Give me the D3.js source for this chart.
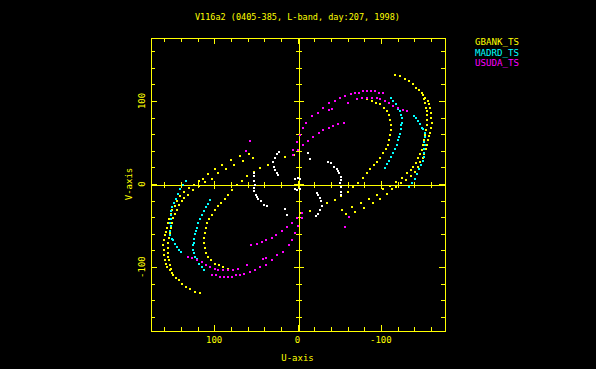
<!DOCTYPE html>
<html>
<head>
<meta charset="utf-8">
<script src="https://cdn.jsdelivr.net/npm/d3@7/dist/d3.min.js"></script>
<style>
	body { margin: 0; background: #000; }
	svg { display: block; }
	text { font-family: 'DejaVu Sans Mono', monospace; font-size: 9px; }
</style>
</head>
<body>
<script>

// uv punten (u, v) in kilo-lambda, de geconjugeerde punten (-u, -v) worden er bij getekend
const gbank = [
	[ [-117,131],[-123,130],[-129,127],[-134,124],[-139,120],[-142,116],[-146,113],[-149,109],[-153,104],[-157,100],
	  [-158,96],[-159,91],[-160,86],[-160,80],[-161,74],[-160,68],[-159,62],[-158,58],[-157,53],[-155,47],
	  [-154,42],[-152,36],[-151,31],[-147,26],[-145,20],[-141,14],[-136,10],[-130,5],[-124,1],[-118,-4],
	  [-113,-6],[-107,-12],[-99,-18],[-91,-23],[-80,-29],[-69,-34],[-58,-36],[-53,-31],[-15,-32],[-4,-35] ],
	[ [-151,107],[-152,102],[-153,97],[-154,92],[-155,88],[-155,83],[-155,77],[-155,71],[-154,65],[-153,59],
	  [-152,53],[-151,47],[-149,41],[-147,36],[-145,31],[-142,25],[-139,20],[-136,17],[-131,13],[-125,7],
	  [-118,2],[-111,-2],[-103,-6],[-95,-13],[-86,-18],[-76,-23],[-65,-28] ],
	[ [-83,102],[-89,100],[-94,98],[-99,96],[-104,92],[-107,88],[-110,83],[-111,77],[-112,71],[-112,65],
	  [-111,59],[-110,53],[-109,47],[-106,42],[-103,37],[-99,31],[-95,26],[-92,23],[-87,18],[-83,13],
	  [-79,7],[-73,1],[-67,-4],[-61,-10],[-52,-14],[-45,-19],[-35,-23] ]
]

const madrd = [
	[ [-140,82],[-142,79],[-145,76],[-147,72],[-149,68],[-151,66],[-153,61],[-153,56],[-152,50],[-153,47],
	  [-152,42],[-152,37],[-152,32],[-151,28],[-148,23],[-146,18],[-143,12],[-141,6],[-137,1],[-134,-4] ],
	[ [-112,103],[-115,100],[-118,96],[-121,90],[-123,88],[-124,83],[-125,79],[-125,74],[-124,71],[-124,66],
	  [-123,60],[-122,56],[-121,53],[-119,47],[-117,42],[-115,37],[-112,32],[-110,28],[-107,24],[-105,19] ]
]

const usuda = [
	[ [5,41],[1,50],[-3,59],[-7,67],[-10,74],[-17,82],[-25,86],[-31,92],[-38,97],[-45,100],
	  [-51,103],[-57,106],[-64,108],[-69,110],[-74,110],[-79,112],[-83,112],[-88,112],[-93,112],[-98,110],[-103,109] ],
	[ [-38,89],[-41,90],[-61,98],[-71,102],[-77,103],[-83,104],[-89,103],[-95,103],[-99,102],[-105,100],
	  [-110,97],[-115,94],[-121,91],[-127,89],[-131,88] ],
	[ [5,35],[-1,41],[-7,47],[-13,52],[-19,56],[-26,61],[-31,65],[-38,67],[-43,70],[-49,72],[-56,73] ],
	[ [57,52],[62,40] ]
]

// korte basislijnen, niet in de legenda
const overig = [
	[ [-37,26],[-40,25],[-44,20],[-47,18],[-49,16],[-50,13],[-52,8],[-52,5],[-51,1],[-52,-4],[-52,-10],[-52,-13] ],
	[ [22,38],[25,36],[27,31],[29,26],[28,20],[27,17],[25,13],[23,11] ],
	[ [3,6],[-1,7],[-3,6],[-13,37],[-15,30] ]
]

const series = [ gbank, madrd, usuda, overig ],
	colors = [ '#ffff00', '#00ffff', '#ff00ff', '#ffffff' ],
	legendNames = [ 'GBANK_TS', 'MADRD_TS', 'USUDA_TS' ],
	minorTicks = d3.range( -160, 161, 20 ),
	majorTicks = [ -100, 0, 100 ],
	title = 'V116a2 (0405-385, L-band, day:207, 1998)'

const width = 596,
	height = 369,
	yellow = '#ffff00',
	frameL = 150, frameR = 445, frameT = 37, frameB = 331,

	x = d3.scaleLinear().domain( [ 177, -177 ] ).range( [ frameL, frameR ] ), // U loopt van rechts naar links
	y = d3.scaleLinear().domain( [ 177, -177 ] ).range( [ frameT, frameB ] ),

	svg = d3.select( 'body' )
		.append( 'svg' )
		.attr( 'width', width )
		.attr( 'height', height )
		.style( 'background', '#000' )

const isMajor = d => majorTicks.includes( d )

// frame met ticks naar binnen
function frameAxis( axis, tx, ty ) {
	const g = svg.append( 'g' )
		.attr( 'transform', `translate( ${ tx }, ${ ty } )` )
		.attr( 'shape-rendering', 'crispEdges' )
		.call( axis.tickValues( minorTicks ).tickFormat( '' ).tickSizeOuter( 0 ) )
	g.select( '.domain' ).attr( 'stroke', yellow )
	g.selectAll( '.tick line' ).attr( 'stroke', yellow )
	return g
}

frameAxis( d3.axisRight( y ).tickSize( 4 ), frameL + 0.5, 0 )
	.selectAll( '.tick line' ).attr( 'x2', d => isMajor( d ) ? 6 : 4 )
frameAxis( d3.axisLeft( y ).tickSize( 4 ), frameR - 0.5, 0 )
	.selectAll( '.tick line' ).attr( 'x2', d => isMajor( d ) ? -6 : -4 )
frameAxis( d3.axisBottom( x ).tickSize( 4 ), 0, frameT + 0.5 )
	.selectAll( '.tick line' ).attr( 'y2', d => isMajor( d ) ? 6 : 4 )
frameAxis( d3.axisTop( x ).tickSize( 4 ), 0, frameB - 0.5 )
	.selectAll( '.tick line' ).attr( 'y2', d => isMajor( d ) ? -6 : -4 )

// nul-assen met ticks aan beide kanten
const vAxis = frameAxis( d3.axisRight( y ), Math.round( x( 0 ) ) + 0.5, 0 )
vAxis.selectAll( '.tick line' )
	.attr( 'x1', d => isMajor( d ) ? -5 : -3 )
	.attr( 'x2', d => isMajor( d ) ? 5 : 3 )

const uAxis = frameAxis( d3.axisBottom( x ), 0, Math.round( y( 0 ) ) + 0.5 )
uAxis.selectAll( '.tick line' )
	.attr( 'y1', d => isMajor( d ) ? -4 : -3 )
	.attr( 'y2', d => isMajor( d ) ? 4 : 3 )

// tick labels
svg.selectAll( '.ylab' )
	.data( majorTicks )
	.enter()
	.append( 'text' )
	.attr( 'class', 'ylab' )
	.attr( 'fill', yellow )
	.attr( 'text-anchor', 'middle' )
	.attr( 'transform', d => `translate( 145, ${ y( d ) } ) rotate( -90 )` )
	.text( d => String( d ) )

svg.selectAll( '.xlab' )
	.data( majorTicks )
	.enter()
	.append( 'text' )
	.attr( 'class', 'xlab' )
	.attr( 'fill', yellow )
	.attr( 'text-anchor', 'middle' )
	.attr( 'x', d => x( d ) )
	.attr( 'y', 343 )
	.text( d => String( d ) )

svg.append( 'text' )
	.attr( 'fill', yellow )
	.attr( 'text-anchor', 'middle' )
	.attr( 'transform', `translate( 131.5, ${ y( 0 ) } ) rotate( -90 )` )
	.text( 'V-axis' )

svg.append( 'text' )
	.attr( 'fill', yellow )
	.attr( 'text-anchor', 'middle' )
	.attr( 'x', x( 0 ) )
	.attr( 'y', 361 )
	.text( 'U-axis' )

svg.append( 'text' )
	.attr( 'fill', yellow )
	.attr( 'x', 195 )
	.attr( 'y', 20 )
	.attr( 'textLength', 205 )
	.attr( 'lengthAdjust', 'spacingAndGlyphs' )
	.text( title )

// legenda
svg.selectAll( '.legend' )
	.data( legendNames )
	.enter()
	.append( 'text' )
	.attr( 'class', 'legend' )
	.attr( 'fill', ( d, i ) => colors[ i ] )
	.attr( 'x', 475 )
	.attr( 'y', ( d, i ) => 45 + i * 10.5 )
	.attr( 'textLength', 44 )
	.attr( 'lengthAdjust', 'spacingAndGlyphs' )
	.text( d => d )

// de uv punten, plus hun spiegelbeeld
series.forEach( ( tracks, s ) => {

	const pts = []
	tracks.forEach( track => track.forEach( p => {
		pts.push( p )
		pts.push( [ -p[ 0 ], -p[ 1 ] ] )
	}) )

	svg.append( 'g' )
		.attr( 'fill', colors[ s ] )
		.attr( 'shape-rendering', 'crispEdges' )
		.selectAll( 'rect' )
		.data( pts )
		.enter()
		.append( 'rect' )
		.attr( 'x', d => Math.round( x( d[ 0 ] ) ) - 1 )
		.attr( 'y', d => Math.round( y( d[ 1 ] ) ) - 1 )
		.attr( 'width', 2 )
		.attr( 'height', 2 )

})

</script>
</body>
</html>
